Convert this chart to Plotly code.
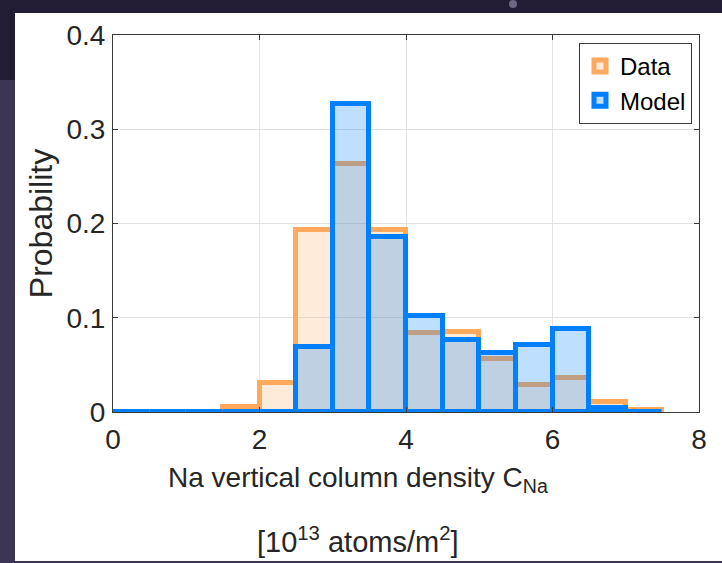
import plotly.graph_objects as go

# Histogram bins (width 0.5, from 0 to 7.5) of Na vertical column density
bin_centers = [0.25, 0.75, 1.25, 1.75, 2.25, 2.75, 3.25, 3.75,
               4.25, 4.75, 5.25, 5.75, 6.25, 6.75, 7.25]
data_prob = [0.0, 0.0, 0.0, 0.005, 0.031, 0.193, 0.263, 0.193,
             0.084, 0.085, 0.056, 0.029, 0.036, 0.011, 0.002]
model_prob = [0.0, 0.0, 0.0, 0.0, 0.0, 0.069, 0.327, 0.186,
              0.102, 0.076, 0.063, 0.071, 0.088, 0.004, 0.0]
series_names = ["Data", "Model"]
x_ticks = [0, 2, 4, 6, 8]
y_ticks = [0, 0.1, 0.2, 0.3, 0.4]

W, H = 722, 563
L, R, T, B = 113, 23, 35, 151
FONT = "Liberation Sans, Arial, Helvetica, sans-serif"
TXT = "#262626"


def px(x):
    return (x - L) / (W - L - R)


def py(y):
    return (H - B - y) / (H - T - B)


fig = go.Figure()
fig.add_trace(go.Bar(
    x=bin_centers, y=data_prob, width=0.5, name=series_names[0],
    marker=dict(color="rgba(255,169,94,0.23)",
                line=dict(color="rgb(255,169,94)", width=5)),
    cliponaxis=False,
))
fig.add_trace(go.Bar(
    x=bin_centers, y=model_prob, width=0.5, name=series_names[1],
    marker=dict(color="rgba(0,128,255,0.25)",
                line=dict(color="rgb(0,128,255)", width=5)),
    cliponaxis=False,
))

axis_common = dict(
    showgrid=True, gridcolor="#E3E3E3", gridwidth=1,
    showline=True, linecolor="#3A3A3A", linewidth=1, mirror="ticks",
    ticks="inside", ticklen=5, tickcolor="#3A3A3A",
    tickfont=dict(family=FONT, size=28, color=TXT),
    zeroline=False,
)

fig.update_layout(
    width=W, height=H, autosize=False,
    margin=dict(l=L, r=R, t=T, b=B, pad=0),
    paper_bgcolor="white", plot_bgcolor="white",
    barmode="overlay", bargap=0,
    font=dict(family=FONT, color=TXT),
    xaxis=dict(range=[0, 8], tickvals=x_ticks, ticklabelstandoff=2, **axis_common),
    yaxis=dict(range=[0, 0.4], tickvals=y_ticks, ticklabelstandoff=1,
               title=dict(text="Probability", font=dict(family=FONT, size=32, color=TXT),
                          standoff=4),
               **axis_common),
    legend=dict(
        x=px(692), y=py(43), xanchor="right", yanchor="top",
        bgcolor="white", bordercolor="#3A3A3A", borderwidth=1,
        font=dict(family=FONT, size=24, color="black"),
        traceorder="normal", itemwidth=30, tracegroupgap=0,
    ),
    showlegend=True,
)

# two-line x axis label
fig.add_annotation(
    text="Na vertical column density C<sub>Na</sub>",
    xref="paper", yref="paper", x=px(358), y=py(479),
    xanchor="center", yanchor="middle", showarrow=False,
    font=dict(family=FONT, size=28, color=TXT),
)
fig.add_annotation(
    text="[10<sup>13</sup> atoms/m<sup>2</sup>]",
    xref="paper", yref="paper", x=px(357), y=py(540),
    xanchor="center", yanchor="middle", showarrow=False,
    font=dict(family=FONT, size=29, color=TXT),
)

# dark slide frame around the figure
frame = [
    (0, 0, W, 13, "#221D35"),
    (0, 0, 15, 80, "#221D35"),
    (0, 80, 15, H, "#3C3652"),
    (0, 561, W, H, "#3C3652"),
]
for x0, y0, x1, y1, c in frame:
    fig.add_shape(type="rect", xref="paper", yref="paper",
                  x0=px(x0), x1=px(x1), y0=py(y1), y1=py(y0),
                  fillcolor=c, line=dict(width=0), layer="above")
fig.add_shape(type="circle", xref="paper", yref="paper",
              x0=px(509), x1=px(517), y0=py(8), y1=py(0),
              fillcolor="#6B6785", line=dict(width=0), layer="above")

fig.write_html("out.html")
